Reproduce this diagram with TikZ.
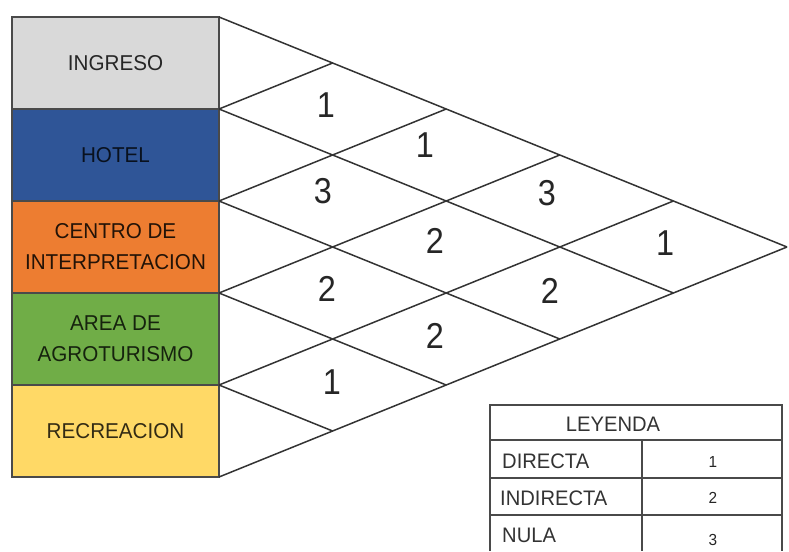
\documentclass[tikz,border=0pt]{standalone}
\usepackage{fontspec}
\setmainfont{Liberation Sans}
\newfontfamily\narrowfont[FakeStretch=0.96]{Liberation Sans}
\newfontfamily\numfont[FakeStretch=0.9]{Liberation Sans}
\definecolor{cIng}{HTML}{D9D9D9}
\definecolor{cHot}{HTML}{2F5597}
\definecolor{cCen}{HTML}{ED7D31}
\definecolor{cAre}{HTML}{70AD47}
\definecolor{cRec}{HTML}{FFD966}
\definecolor{cLine}{HTML}{333333}
\definecolor{cBox}{HTML}{4A4A4A}
\tikzset{
  rowbox/.style={draw=cBox, line width=1.6pt, minimum width=207pt, minimum height=92pt,
    inner sep=0pt, align=center, font=\narrowfont\fontsize{21.5}{31}\selectfont},
  gridline/.style={draw=cLine, line width=1.5pt},
  val/.style={font=\numfont\fontsize{36}{36}\selectfont, text=black!85, inner sep=0pt},
  legline/.style={draw=cBox, line width=1.3pt},
  legtxt/.style={font=\narrowfont\fontsize{21}{21}\selectfont, text=black!80, inner sep=0pt},
  legnum/.style={font=\narrowfont\fontsize{16}{16}\selectfont, text=black!85, inner sep=0pt}
}
\begin{document}
\begin{tikzpicture}[x=1pt,y=-1pt]
\useasboundingbox (0,0) rectangle (789,551);
% row boxes
\node[rowbox, fill=cIng, text=black!85] (ingreso) at (115.5,63) {INGRESO};
\node[rowbox, fill=cHot, text=black!80!cHot] (hotel) at (115.5,155) {HOTEL};
\node[rowbox, fill=cCen, text=black!85!cCen] (centro) at (115.5,247) {CENTRO DE\\INTERPRETACION};
\node[rowbox, fill=cAre, text=black!80!cAre] (area) at (115.5,339) {AREA DE\\AGROTURISMO};
\node[rowbox, fill=cRec, text=black!80!cRec] (recre) at (115.5,431) {RECREACION};
% grid points
\foreach \k in {0,...,5}{
  \coordinate (L\k) at (219,17+92*\k);
  \coordinate (T\k) at (219+113.6*\k,17+46*\k);
  \coordinate (B\k) at (219+113.6*\k,477-46*\k);
}
% down-right lines
\foreach \k [evaluate=\k as \j using int(5-\k)] in {0,...,4}{
  \draw[gridline] (L\k) -- (B\j);
}
% up-right lines
\foreach \k in {1,...,5}{
  \draw[gridline] (L\k) -- (T\k);
}
% values
\node[val] (v12) at (326,105) {1};
\node[val] (v13) at (425,145) {1};
\node[val] (v23) at (323,191) {3};
\node[val] (v14) at (547,193) {3};
\node[val] (v24) at (435,241) {2};
\node[val] (v15) at (665,243) {1};
\node[val] (v34) at (327,289) {2};
\node[val] (v25) at (550,291) {2};
\node[val] (v35) at (435,336) {2};
\node[val] (v45) at (332,382) {1};
% legend
\coordinate (g1) at (490,405);
\coordinate (g2) at (782,405);
\coordinate (g3) at (490,551);
\coordinate (g4) at (782,551);
\coordinate (h1a) at (490,440); \coordinate (h1b) at (782,440);
\coordinate (h2a) at (490,478); \coordinate (h2b) at (782,478);
\coordinate (h3a) at (490,515); \coordinate (h3b) at (782,515);
\coordinate (va) at (642,440); \coordinate (vb) at (642,551);
\draw[legline] (g3) -- (g1) -- (g2) -- (g4);
\draw[legline] (h1a) -- (h1b);
\draw[legline] (h2a) -- (h2b);
\draw[legline] (h3a) -- (h3b);
\draw[legline] (va) -- (vb);
\node[legtxt] (leyenda) at (613,424) {LEYENDA};
\node[legtxt, anchor=west] (directa) at (502,461) {DIRECTA};
\node[legtxt, anchor=west] (indirecta) at (500,498) {INDIRECTA};
\node[legtxt, anchor=west] (nula) at (502,535) {NULA};
\node[legnum] (n1) at (713,462) {1};
\node[legnum] (n2) at (713,498) {2};
\node[legnum] (n3) at (713,540) {3};
\end{tikzpicture}
\end{document}
